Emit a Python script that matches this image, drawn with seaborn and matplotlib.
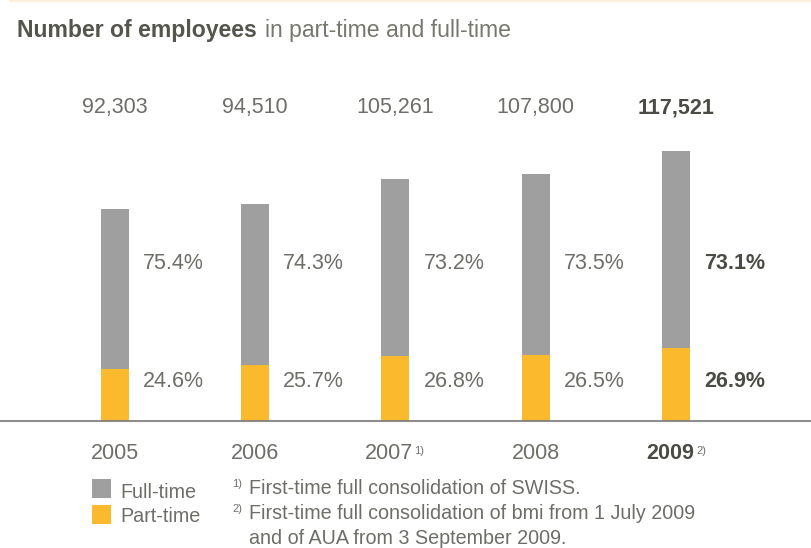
import matplotlib
matplotlib.use("Agg")
import matplotlib.pyplot as plt
import matplotlib.transforms as mtransforms
from matplotlib.patches import Rectangle
from matplotlib.lines import Line2D
import seaborn as sns
import pandas as pd

# ---- data ----
years = ["2005", "2006", "2007", "2008", "2009"]
year_notes = ["", "", "1)", "", "2)"]
totals = [92303, 94510, 105261, 107800, 117521]
full_pct = [75.4, 74.3, 73.2, 73.5, 73.1]
part_pct = [24.6, 25.7, 26.8, 26.5, 26.9]
legend_labels = ["Full-time", "Part-time"]
footnotes = [("1)", ["First-time full consolidation of SWISS."]),
             ("2)", ["First-time full consolidation of bmi from 1 July 2009",
                     "and of AUA from 3 September 2009."])]

df = pd.DataFrame({
    "year": years,
    "total": totals,
    "part": [t * p / 100 for t, p in zip(totals, part_pct)],
})

# ---- style ----
sns.set_style("white")
plt.rcParams["font.family"] = ["Liberation Sans", "DejaVu Sans"]

GRAY = "#a09fa0"
ORANGE = "#fbb92e"
TXT = "#6e6e69"
BOLD = "#4b4b45"

W, H = 811, 548
fig = plt.figure(figsize=(W / 100, H / 100), dpi=100)


def fx(px):
    return px / W


def fy(py):
    return 1 - py / H


BASE = 420.5
ax = fig.add_axes([0, fy(BASE), 1, BASE / H])
sns.barplot(data=df, x="year", y="total", color=GRAY, width=0.2, saturation=1,
            errorbar=None, linewidth=0, ax=ax, zorder=2)
sns.barplot(data=df, x="year", y="part", color=ORANGE, width=0.2, saturation=1,
            errorbar=None, linewidth=0, ax=ax, zorder=3)
ax.set_xlim(-0.820, 4.963)
ax.set_ylim(0, BASE / 0.00229)
ax.axis("off")
ax.axhline(0, color="#7a7a7a", lw=1.5, alpha=0.85, clip_on=False, zorder=5)

blend = mtransforms.blended_transform_factory(ax.transData, fig.transFigure)
n = len(years)
for i in range(n):
    last = i == n - 1
    w = "bold" if last else "normal"
    c = BOLD if last else TXT
    ax.text(i, fy(113), f"{totals[i]:,}", transform=blend, ha="center",
            va="baseline", fontsize=15.5, color=c, fontweight=w)
    ax.text(i + 0.2, fy(269), f"{full_pct[i]:.1f}%", transform=blend, ha="left",
            va="baseline", fontsize=15.5, color=c, fontweight=w)
    ax.text(i + 0.2, fy(387), f"{part_pct[i]:.1f}%", transform=blend, ha="left",
            va="baseline", fontsize=15.5, color=c, fontweight=w)
    shift = -6 if year_notes[i] else 0
    yt = ax.annotate(years[i], xy=(i, fy(459)), xycoords=blend,
                     xytext=(shift, 0), textcoords="offset pixels",
                     ha="center", va="baseline", fontsize=15.5, color=c,
                     fontweight=w)
    if year_notes[i]:
        gap = 3 if last else 0
        ax.annotate(year_notes[i], xy=(1, 1), xycoords=yt, xytext=(gap, -3),
                    textcoords="offset pixels", ha="left", va="top",
                    fontsize=8, color=TXT)

# ---- title ----
t1 = fig.text(fx(17), fy(37), "Number of employees", ha="left", va="baseline",
              fontsize=16.6, fontweight="bold", color="#55554e")
fig.canvas.draw()
bb = t1.get_window_extent()
fig.text(bb.x1 / W + fx(8), fy(37), "in part-time and full-time", ha="left",
         va="baseline", fontsize=16.6, color="#77776f")

# top faint rule
fig.add_artist(Line2D([fx(10), 1], [fy(1), fy(1)], transform=fig.transFigure,
                      color="#fcefdc", lw=1.5))

# ---- legend ----
for k, (lab, col) in enumerate(zip(legend_labels, [GRAY, ORANGE])):
    top = 479 + k * 26
    fig.add_artist(Rectangle((fx(92), fy(top + 18.5)), fx(18.5), 18.5 / H,
                             transform=fig.transFigure, facecolor=col,
                             edgecolor="none"))
    fig.text(fx(120), fy(497.5 + k * 25), lab, ha="left", va="baseline",
             fontsize=14.2, color=TXT)

# ---- footnotes ----
row = 0
for mark, lines in footnotes:
    fig.text(fx(232), fy(487 + row * 25.3), mark, ha="left", va="baseline",
             fontsize=8, color=TXT)
    for ln in lines:
        fig.text(fx(249), fy(493.5 + row * 25.3), ln, ha="left", va="baseline",
                 fontsize=14.2, color=TXT)
        row += 1

fig.savefig("out.png", dpi=100)
